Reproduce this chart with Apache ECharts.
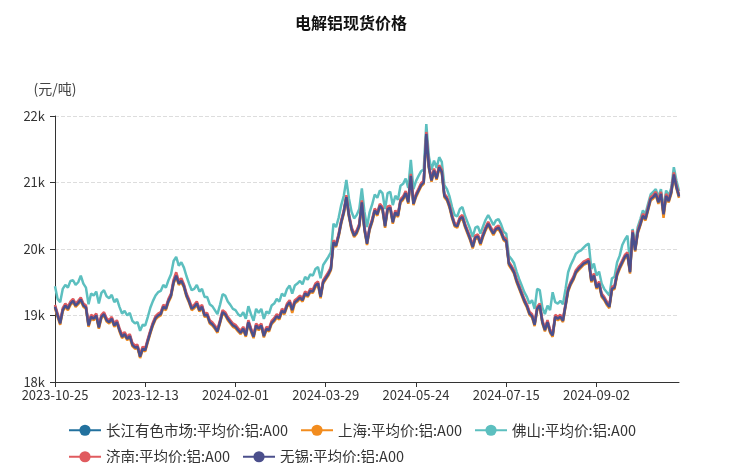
<!DOCTYPE html>
<html><head><meta charset="utf-8">
<script src="https://cdn.jsdelivr.net/npm/echarts@6/dist/echarts.min.js"></script>
<style>html,body{margin:0;padding:0;background:#fff}#c{width:729px;height:463px}</style>
</head><body><div id="c"></div>
<script>
const tradingDays = {
 '2023-10':[25,26,27,30,31],
 '2023-11':[1,2,3,6,7,8,9,10,13,14,15,16,17,20,21,22,23,24,27,28,29,30],
 '2023-12':[1,4,5,6,7,8,11,12,13,14,15,18,19,20,21,22,25,26,27,28,29],
 '2024-01':[2,3,4,5,8,9,10,11,12,15,16,17,18,19,22,23,24,25,26,29,30,31],
 '2024-02':[1,2,5,6,7,8,19,20,21,22,23,26,27,28,29],
 '2024-03':[1,4,5,6,7,8,11,12,13,14,15,18,19,20,21,22,25,26,27,28,29],
 '2024-04':[1,2,3,8,9,10,11,12,15,16,17,18,19,22,23,24,25,26,29,30],
 '2024-05':[6,7,8,9,10,13,14,15,16,17,20,21,22,23,24,27,28,29,30,31],
 '2024-06':[3,4,5,6,7,11,12,13,14,17,18,19,20,21,24,25,26,27,28],
 '2024-07':[1,2,3,4,5,8,9,10,11,12,15,16,17,18,19,22,23,24,25,26,29,30,31],
 '2024-08':[1,2,5,6,7,8,9,12,13,14,15,16,19,20,21,22,23,26,27,28,29,30],
 '2024-09':[2,3,4,5,6,9,10,11,12,13,18,19,20,23,24,25,26,27,30],
 '2024-10':[8,9,10,11,14,15,16,17,18,21,22,23,24,25]
};
const dates = [];
for (const m in tradingDays) tradingDays[m].forEach(d => dates.push(m + '-' + String(d).padStart(2, '0')));

const seriesNames = ['长江有色市场:平均价:铝:A00','上海:平均价:铝:A00','佛山:平均价:铝:A00','济南:平均价:铝:A00','无锡:平均价:铝:A00'];
const yTicks = [18000,19000,20000,21000,22000];

const changjiang = [19140,19010,18890,19090,19160,19110,19190,19230,19160,19200,
19250,19160,19130,18860,18990,18960,19010,18830,18990,19030,
18940,18910,18960,18860,18910,18790,18690,18730,18660,18700,
18570,18530,18540,18390,18510,18490,18630,18760,18880,18970,
19010,19030,19140,19110,19230,19310,19510,19610,19490,19530,
19450,19310,19220,19110,19140,19190,19090,19140,19010,19020,
18910,18880,18830,18770,18910,19060,19030,18960,18910,18860,
18840,18790,18750,18810,18710,18910,18790,18690,18860,18810,
18860,18700,18810,18790,18900,18940,19000,18970,19080,19050,
19160,19210,19090,19210,19240,19280,19240,19340,19310,19380,
19370,19460,19490,19290,19510,19570,19630,19710,20110,20060,
20210,20410,20560,20790,20510,20310,20210,20260,20360,20710,
20310,20090,20310,20430,20590,20530,20660,20610,20350,20610,
20630,20410,20560,20510,20730,20770,20850,20710,21110,20690,
20810,20890,20970,21010,21740,21240,21040,21190,21070,21240,
21170,20810,20760,20650,20490,20370,20350,20460,20490,20360,
20260,20160,20040,20180,20200,20090,20210,20310,20390,20310,
20240,20310,20330,20260,20160,20130,19790,19730,19660,19530,
19430,19330,19230,19150,19040,19000,18870,19110,19160,18910,
18790,18910,18770,18710,18990,18960,18990,18930,19160,19390,
19490,19560,19660,19710,19750,19790,19810,19830,19530,19610,
19430,19490,19310,19260,19190,19140,19410,19430,19630,19730,
19810,19890,19930,19660,20260,19990,20260,20380,20510,20460,
20610,20760,20790,20840,20710,20840,20530,20810,20730,20860,
21130,20940,20800];

const shanghai = [19110,18980,18860,19060,19130,19080,19160,19200,19130,19170,
19220,19130,19100,18830,18960,18930,18980,18800,18960,19000,
18910,18880,18930,18830,18880,18760,18660,18700,18630,18670,
18540,18500,18510,18360,18480,18460,18600,18730,18850,18940,
18980,19000,19110,19080,19200,19280,19480,19580,19460,19500,
19420,19280,19190,19080,19110,19160,19060,19110,18980,18990,
18880,18850,18800,18740,18880,19030,19000,18930,18880,18830,
18810,18760,18720,18780,18680,18880,18760,18660,18830,18780,
18830,18670,18780,18760,18870,18910,18970,18940,19050,19020,
19130,19180,19040,19180,19210,19250,19210,19310,19280,19350,
19340,19430,19460,19260,19480,19540,19600,19680,20080,20030,
20180,20380,20530,20760,20480,20280,20180,20230,20330,20680,
20280,20060,20280,20400,20560,20500,20630,20580,20320,20580,
20600,20380,20530,20480,20700,20740,20820,20680,21080,20660,
20780,20860,20940,20980,21710,21210,21010,21160,21040,21210,
21140,20780,20730,20620,20460,20340,20320,20430,20460,20330,
20230,20130,20010,20150,20170,20060,20180,20280,20360,20280,
20210,20280,20300,20230,20130,20100,19760,19700,19630,19500,
19400,19300,19200,19120,19010,18970,18840,19080,19130,18880,
18760,18880,18740,18680,18960,18930,18960,18900,19130,19360,
19460,19530,19630,19680,19720,19760,19780,19800,19500,19580,
19400,19460,19280,19230,19160,19110,19380,19400,19600,19700,
19780,19860,19900,19630,20230,19960,20230,20350,20480,20430,
20580,20730,20760,20810,20680,20810,20470,20780,20700,20830,
21100,20910,20770];

const foshan = [19440,19250,19200,19400,19460,19420,19520,19530,19460,19500,
19600,19480,19420,19170,19330,19300,19360,19180,19340,19380,
19290,19260,19310,19200,19250,19130,19030,19070,19000,19040,
18920,18880,18900,18770,18860,18850,18980,19120,19220,19300,
19350,19370,19460,19420,19530,19620,19820,19880,19750,19800,
19720,19590,19480,19380,19400,19460,19360,19400,19280,19280,
19170,19140,19080,19020,19160,19320,19300,19210,19160,19100,
19080,19020,18990,19050,18950,19140,19020,18920,19100,19040,
19100,18950,19060,19030,19150,19180,19250,19210,19330,19290,
19400,19450,19330,19450,19480,19520,19470,19580,19540,19620,
19600,19700,19730,19560,19760,19820,19880,19950,20380,20330,
20470,20660,20800,21040,20760,20560,20460,20510,20600,20910,
20560,20330,20550,20670,20820,20770,20880,20840,20600,20840,
20860,20660,20800,20740,20950,20980,21060,20920,21340,20900,
21020,21100,21170,21200,21880,21390,21190,21330,21220,21380,
21310,20960,20900,20790,20630,20510,20490,20600,20630,20500,
20400,20300,20180,20320,20340,20230,20340,20440,20510,20440,
20360,20430,20450,20370,20260,20230,19900,19850,19790,19660,
19550,19450,19350,19280,19180,19230,19100,19400,19380,19120,
19020,19150,19080,19350,19200,19180,19220,19170,19400,19650,
19760,19840,19930,19960,19980,20020,20060,20080,19700,19780,
19600,19660,19480,19400,19350,19300,19560,19580,19800,19900,
20060,20140,20200,19800,20300,20080,20330,20450,20580,20530,
20680,20820,20860,20900,20780,20900,20600,20880,20800,20920,
21230,21030,20870];

const jinan = [19160,19030,18910,19110,19180,19130,19210,19250,19180,19220,
19270,19180,19150,18880,19010,18980,19030,18850,19010,19050,
18960,18930,18980,18880,18930,18810,18710,18750,18680,18720,
18590,18550,18560,18410,18530,18510,18650,18780,18900,18990,
19030,19050,19160,19130,19250,19330,19540,19650,19520,19560,
19470,19330,19240,19130,19160,19210,19110,19160,19030,19040,
18930,18900,18850,18790,18930,19080,19050,18980,18930,18880,
18860,18810,18770,18830,18730,18930,18810,18710,18880,18830,
18880,18720,18830,18810,18920,18960,19020,18990,19100,19070,
19180,19230,19110,19230,19260,19300,19260,19360,19330,19400,
19390,19480,19510,19310,19530,19590,19650,19730,20130,20080,
20230,20430,20580,20810,20530,20330,20230,20280,20380,20730,
20330,20110,20330,20450,20610,20550,20680,20630,20380,20640,
20650,20430,20580,20530,20750,20790,20870,20730,21130,20710,
20830,20910,20990,21030,21760,21260,21060,21210,21090,21260,
21190,20830,20780,20670,20510,20390,20370,20480,20510,20380,
20280,20180,20060,20200,20220,20110,20230,20330,20410,20330,
20260,20330,20350,20280,20180,20150,19810,19750,19680,19550,
19450,19350,19250,19170,19060,19020,18890,19130,19180,18930,
18810,18930,18790,18730,19010,18980,19010,18950,19180,19410,
19510,19580,19680,19730,19770,19810,19830,19850,19550,19630,
19450,19510,19330,19280,19210,19160,19430,19450,19650,19750,
19830,19910,19950,19680,20280,20010,20280,20400,20530,20480,
20630,20780,20810,20860,20730,20860,20550,20830,20750,20880,
21150,20960,20820];

const wuxi = [19130,19000,18880,19080,19150,19100,19180,19220,19150,19190,
19240,19150,19120,18850,18980,18950,19000,18820,18980,19020,
18930,18900,18950,18850,18900,18780,18680,18720,18650,18690,
18560,18520,18530,18380,18500,18480,18620,18750,18870,18960,
19000,19020,19130,19100,19220,19300,19500,19600,19480,19520,
19440,19300,19210,19100,19130,19180,19080,19130,19000,19010,
18900,18870,18820,18760,18900,19050,19020,18950,18900,18850,
18830,18780,18740,18800,18700,18900,18780,18680,18850,18800,
18850,18690,18800,18780,18890,18930,18990,18960,19070,19040,
19150,19200,19080,19200,19230,19270,19230,19330,19300,19370,
19360,19450,19480,19280,19500,19560,19620,19700,20100,20050,
20200,20400,20550,20780,20500,20300,20200,20250,20350,20700,
20300,20080,20300,20420,20580,20520,20650,20600,20340,20600,
20620,20400,20550,20500,20720,20760,20840,20700,21100,20680,
20800,20880,20960,21000,21730,21230,21030,21180,21060,21230,
21160,20800,20750,20640,20480,20360,20340,20450,20480,20350,
20250,20150,20030,20170,20190,20080,20200,20300,20380,20300,
20230,20300,20320,20250,20150,20120,19780,19720,19650,19520,
19420,19320,19220,19140,19030,18990,18860,19100,19150,18900,
18780,18900,18760,18700,18980,18950,18980,18920,19150,19380,
19480,19550,19650,19700,19740,19780,19800,19820,19520,19600,
19420,19480,19300,19250,19180,19130,19400,19420,19620,19720,
19800,19880,19920,19650,20250,19980,20250,20370,20500,20450,
20600,20750,20780,20830,20700,20830,20520,20800,20720,20850,
21120,20930,20790];

const colors = ['#22719e','#f28c1e','#5cbfbf','#e05b5f','#4b4f8c'];
const values = [changjiang, shanghai, foshan, jinan, wuxi];

const chart = echarts.init(document.getElementById('c'), null, {renderer: 'canvas'});
chart.setOption({
  animation: false,
  backgroundColor: '#fff',
  color: colors,
  title: {
    text: '电解铝现货价格', left: 290, top: 10,
    textStyle: {fontSize: 16, fontWeight: 'bold', color: '#111', fontFamily: 'Noto Sans CJK SC'}
  },
  grid: {left: 55, right: 50, top: 116, bottom: 81},
  legend: {
    left: 68, right: 55, top: 423, padding: 0,
    itemWidth: 32, itemHeight: 14, itemGap: 12,
    textStyle: {fontSize: 14.5, color: '#333', fontFamily: 'Noto Sans CJK SC'},
    data: seriesNames
  },
  xAxis: {
    type: 'category', data: dates, boundaryGap: false,
    axisLine: {lineStyle: {color: '#333'}},
    axisTick: {interval: 34, length: 5, lineStyle: {color: '#333'}},
    axisLabel: {interval: 34, color: '#333', fontSize: 13, margin: 7, fontFamily: 'Noto Sans CJK SC'},
    splitLine: {show: false}
  },
  yAxis: {
    type: 'value', min: yTicks[0], max: yTicks[yTicks.length - 1], interval: 1000,
    name: '(元/吨)', nameLocation: 'end', nameGap: 20,
    nameTextStyle: {fontSize: 14, color: '#444', fontFamily: 'Noto Sans CJK SC'},
    axisLine: {show: true, lineStyle: {color: '#333'}},
    axisTick: {show: true, length: 5, lineStyle: {color: '#333'}},
    axisLabel: {color: '#333', fontSize: 13, margin: 10, formatter: v => (v / 1000) + 'k', fontFamily: 'Noto Sans CJK SC'},
    splitLine: {lineStyle: {type: 'dashed', color: '#ddd'}}
  },
  series: seriesNames.map((n, i) => ({
    name: n, type: 'line', data: values[i],
    symbol: 'circle', symbolSize: 6, showSymbol: false,
    lineStyle: {width: 2.5, color: colors[i]},
    itemStyle: {color: colors[i]}
  }))
});
</script></body></html>
